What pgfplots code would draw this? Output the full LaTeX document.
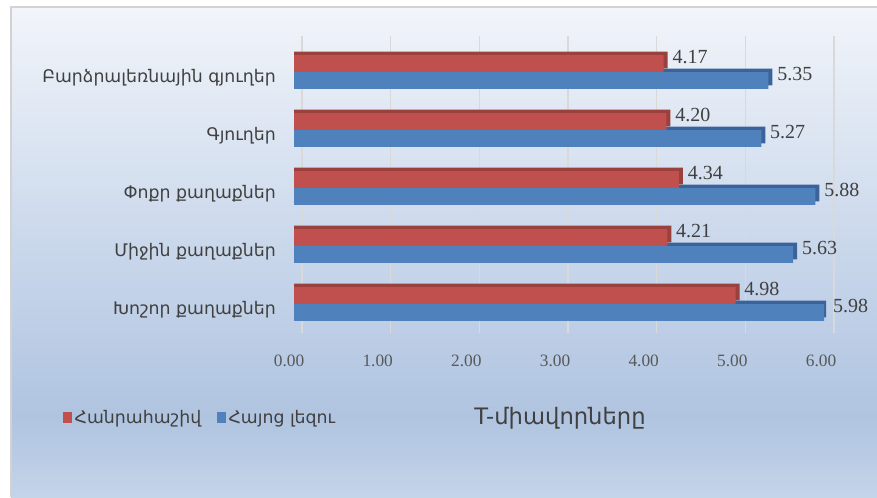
\documentclass[border=0pt]{standalone}
\usepackage{pgfplots}
\pgfplotsset{compat=1.18}
\usepackage{pgfplotstable}
\usepackage{fontspec}
\setmainfont{DejaVu Sans}
\newfontfamily\armfont{DejaVu Sans}
\newfontfamily\numfont{Liberation Serif}
\definecolor{redF}{HTML}{C0504D}
\definecolor{redD}{HTML}{9A403D}
\definecolor{bluF}{HTML}{4F81BD}
\definecolor{bluD}{HTML}{3B639A}
\definecolor{bgA}{HTML}{F2F5FA}
\definecolor{bgB}{HTML}{C9D7EB}
\definecolor{bgC}{HTML}{B0C4E0}
\definecolor{bgD}{HTML}{C4D4E9}
\definecolor{txt}{HTML}{404040}
\definecolor{tick}{HTML}{595959}
\pgfplotstableread{
y alg arm
0 4.98 5.98
1 4.21 5.63
2 4.34 5.88
3 4.20 5.27
4 4.17 5.35
}\data
\begin{document}
\begin{tikzpicture}
\fill[white] (0,0) rectangle (657.75pt,372.75pt);
\useasboundingbox (0,0) rectangle (657.75pt,372.75pt);
\shade[top color=bgA, bottom color=bgB] (8.25pt,186pt) rectangle (657.75pt,367.5pt);
\shade[top color=bgB, bottom color=bgC] (8.25pt,60pt) rectangle (657.75pt,186.2pt);
\shade[top color=bgC, bottom color=bgD] (8.25pt,0pt) rectangle (657.75pt,60.2pt);
\draw[gray!35, line width=0.8pt] (8.25pt,0pt) -- (8.25pt,367.5pt) -- (657.75pt,367.5pt);
\begin{axis}[
  at={(220.5pt,123pt)}, anchor=south west,
  scale only axis, width=399pt, height=222.75pt,
  xmin=0, xmax=6, ymin=-0.5, ymax=4.62,
  xbar, bar width=0.29,
  axis line style={draw=none},
  major tick length=0pt,
  xmajorgrids, grid style={color=gray!30, line width=0.8pt, xshift=6pt},
  xtick={0,1,...,6},
  /pgf/number format/assume math mode=true,
  xticklabel={\pgfmathprintnumber[fixed,zerofill,precision=2]{\tick}},
  xticklabel style={font=\numfont\fontsize{13}{15}\selectfont, text=tick, yshift=-13pt, xshift=-3.75pt},
  ytick={0,1,2,3,4},
  yticklabels={Խոշոր քաղաքներ, Միջին քաղաքներ, Փոքր քաղաքներ, Գյուղեր, Բարձրալեռնային գյուղեր},
  yticklabel style={font=\armfont\fontsize{13}{15}\selectfont, text=txt, xshift=-10pt, yshift=-4pt},
  xlabel={T-միավորները},
  xlabel style={at={(axis description cs:0.5,-0.286)}, anchor=center, font=\armfont\fontsize{17}{19}\selectfont, text=txt},
  legend style={at={(axis description cs:-0.4417,-0.286)}, anchor=west, draw=none, fill=none,
    font=\armfont\fontsize{13}{15}\selectfont, text=txt, legend columns=2,
    /tikz/every even column/.append style={column sep=10pt}},
  legend image code/.code={\fill[#1] (0pt,-4pt) rectangle (6.5pt,4.5pt);},
  nodes near coords={\pgfmathprintnumber[fixed,zerofill,precision=2]{\pgfplotspointmeta}},
  every node near coord/.append style={font=\numfont\fontsize{15}{17}\selectfont, text=txt, anchor=west, inner sep=0pt, xshift=6.5pt, yshift=5pt},
]
\addlegendimage{fill=redF, draw=none}
\addlegendentry{Հանրահաշիվ}
\addlegendimage{fill=bluF, draw=none}
\addlegendentry{Հայոց լեզու}
% depth (3D) faces
\addplot[forget plot, draw=none, fill=bluD, bar shift=-0.0866, nodes near coords={}, x filter/.expression={x+0.045}] table[x=arm, y=y] {\data};
\addplot[forget plot, draw=none, fill=bluF, bar shift=-0.1466, point meta=x] table[x=arm, y=y] {\data};
\addplot[forget plot, draw=none, fill=redD, bar shift=0.2066, nodes near coords={}, x filter/.expression={x+0.045}] table[x=alg, y=y] {\data};
\addplot[forget plot, draw=none, fill=redF, bar shift=0.1466, point meta=x] table[x=alg, y=y] {\data};
\end{axis}
\end{tikzpicture}
\end{document}
